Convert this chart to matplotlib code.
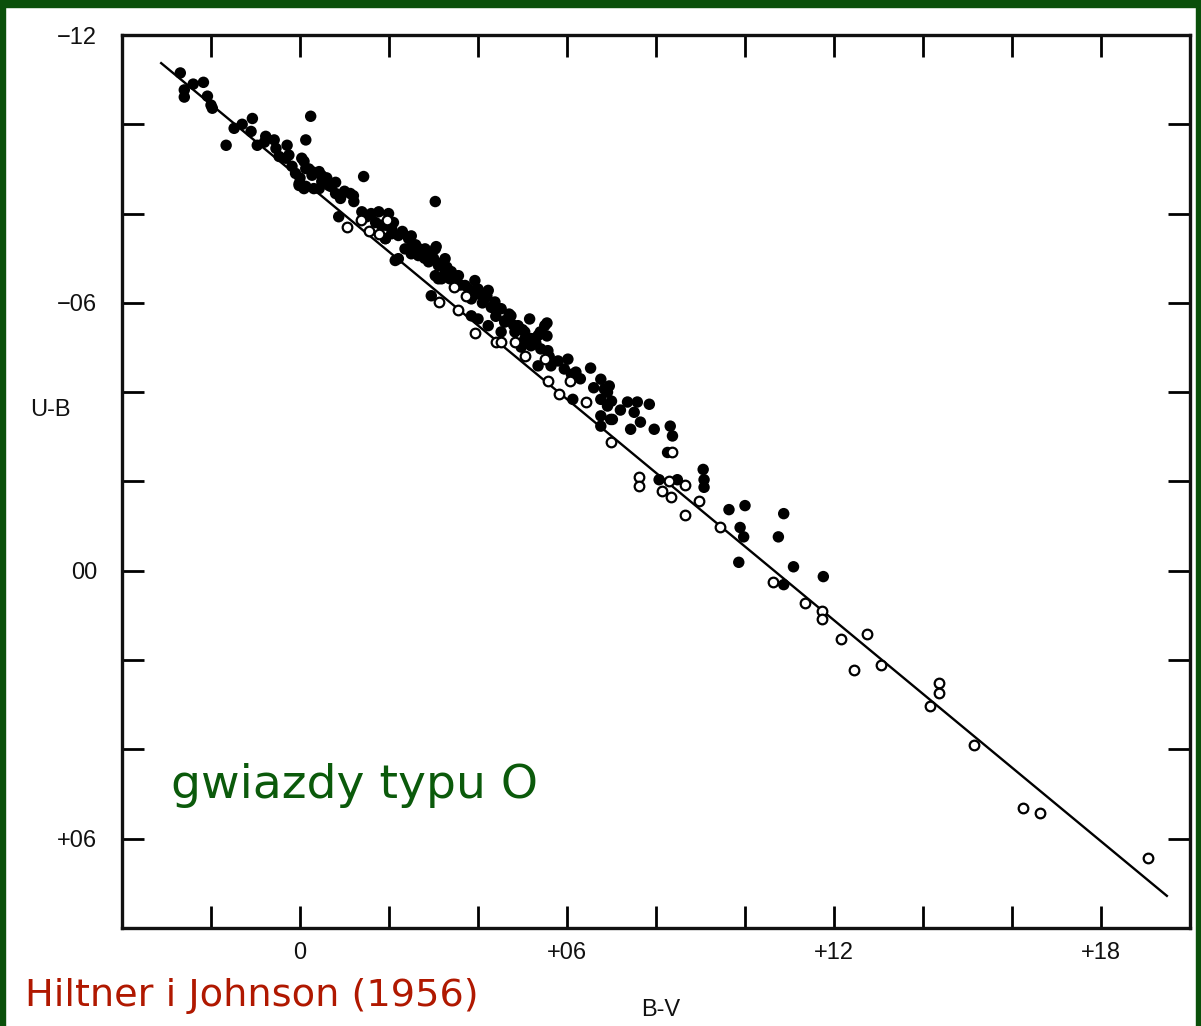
import matplotlib
matplotlib.use("Agg")
import matplotlib.pyplot as plt
from matplotlib.patches import Rectangle
import numpy as np

# B-V, U-B for the filled points
filled_bv = [-0.269, -0.260, -0.260, -0.217, -0.208, -0.200, -0.197, -0.107, 0.024, -0.148,
             -0.166, -0.110, -0.096, -0.077, -0.058, -0.054, -0.047, -0.029, -0.025, 0.013,
             -0.018, 0.004, 0.013, -0.002, 0.013, 0.027, 0.043, 0.049, 0.069, 0.080,
             0.031, 0.143, 0.087, 0.214, -0.032, 0.009, 0.027, 0.049, -0.002, 0.009,
             0.043, 0.065, 0.091, 0.113, 0.121, 0.304, 0.139, 0.150, 0.177, 0.199,
             0.183, 0.206, 0.192, 0.221, 0.244, 0.251, 0.221, 0.266, 0.281, 0.304,
             0.289, 0.311, 0.326, 0.304, 0.318, 0.192, 0.206, 0.192, 0.236, 0.306,
             0.326, 0.311, 0.337, 0.356, 0.371, 0.393, 0.400, 0.423, 0.385, 0.415,
             0.438, 0.445, 0.474, 0.460, 0.490, 0.516, 0.505, 0.535, 0.550, 0.295,
             0.385, 0.400, 0.423, 0.497, 0.452, 0.471, 0.555, 0.555, 0.452, 0.483,
             0.505, 0.519, 0.541, 0.557, 0.535, 0.564, 0.602, 0.594, 0.620, 0.653,
             0.613, 0.676, 0.684, 0.695, 0.676, 0.691, 0.676, 0.676, 0.698, 0.736,
             0.758, 0.785, 0.751, 0.765, 0.743, 0.796, 0.832, 0.837, 0.691, 0.702,
             0.807, 0.848, 0.906, 0.908, 0.908, 0.964, 1.000, 1.087, 0.989, 0.997,
             1.075, 0.986, 1.109, 1.087, 1.176, 0.826,
             # dense band
             0.160, 0.170, 0.210, 0.230, 0.250, 0.260, 0.270, 0.290, 0.300, 0.320,
             0.330, 0.340, 0.350, 0.360, 0.380, 0.400, 0.410, 0.430, 0.440, 0.460,
             0.480, 0.500, 0.520, 0.530, 0.560, 0.580, 0.610, 0.630, 0.660, 0.700,
             0.720, 0.060, 0.080, 0.100, 0.120, 0.020, -0.010, 0.000, -0.080, -0.130,
             -0.240, 0.250, 0.280, 0.420, 0.470, 0.540]
filled_ub = [-1.115, -1.077, -1.061, -1.094, -1.063, -1.043, -1.036, -1.013, -1.018, -0.991,
             -0.953, -0.984, -0.953, -0.973, -0.965, -0.946, -0.928, -0.953, -0.931, -0.965,
             -0.906, -0.924, -0.901, -0.867, -0.861, -0.886, -0.894, -0.872, -0.861, -0.845,
             -0.856, -0.883, -0.793, -0.695, -0.924, -0.917, -0.894, -0.885, -0.863, -0.856,
             -0.856, -0.863, -0.834, -0.845, -0.827, -0.827, -0.804, -0.793, -0.804, -0.800,
             -0.774, -0.766, -0.744, -0.751, -0.744, -0.726, -0.699, -0.706, -0.721, -0.721,
             -0.692, -0.684, -0.699, -0.661, -0.654, -0.774, -0.755, -0.744, -0.721, -0.726,
             -0.670, -0.654, -0.654, -0.661, -0.639, -0.650, -0.631, -0.628, -0.609, -0.609,
             -0.602, -0.587, -0.571, -0.557, -0.549, -0.564, -0.535, -0.527, -0.549, -0.616,
             -0.571, -0.564, -0.549, -0.501, -0.587, -0.571, -0.555, -0.526, -0.535, -0.535,
             -0.519, -0.504, -0.497, -0.493, -0.459, -0.459, -0.474, -0.452, -0.445, -0.454,
             -0.384, -0.429, -0.407, -0.414, -0.384, -0.369, -0.347, -0.324, -0.339, -0.378,
             -0.378, -0.373, -0.355, -0.333, -0.317, -0.317, -0.324, -0.302, -0.400, -0.339,
             -0.204, -0.204, -0.227, -0.204, -0.187, -0.137, -0.146, -0.128, -0.097, -0.076,
             -0.076, -0.019, -0.009, 0.031, 0.013, -0.265,
             -0.800, -0.780, -0.780, -0.760, -0.750, -0.730, -0.720, -0.710, -0.700, -0.690,
             -0.680, -0.670, -0.650, -0.640, -0.630, -0.620, -0.600, -0.590, -0.570, -0.560,
             -0.550, -0.540, -0.520, -0.510, -0.480, -0.470, -0.440, -0.430, -0.410, -0.380,
             -0.360, -0.880, -0.870, -0.850, -0.840, -0.900, -0.890, -0.880, -0.960, -1.000,
             -1.090, -0.710, -0.700, -0.615, -0.575, -0.535]

# open circles
open_bv = [0.105, 0.136, 0.154, 0.177, 0.195, 0.313, 0.346, 0.373, 0.356, 0.393,
           0.441, 0.483, 0.505, 0.550, 0.557, 0.606, 0.583, 0.642, 0.698, 0.837,
           0.762, 0.762, 0.829, 0.866, 0.814, 0.834, 0.896, 0.866, 0.943, 1.064,
           1.135, 1.174, 1.174, 1.215, 1.275, 1.245, 1.305, 1.436, 1.436, 1.415,
           1.515, 1.625, 1.664, 1.905, 0.452]
open_ub = [-0.771, -0.785, -0.762, -0.755, -0.785, -0.603, -0.636, -0.616, -0.583, -0.533,
           -0.512, -0.512, -0.482, -0.474, -0.425, -0.425, -0.396, -0.378, -0.288, -0.265,
           -0.209, -0.191, -0.202, -0.193, -0.178, -0.165, -0.156, -0.126, -0.099, 0.024,
           0.072, 0.090, 0.108, 0.153, 0.142, 0.222, 0.211, 0.252, 0.273, 0.303,
           0.391, 0.531, 0.542, 0.643, -0.512]

# reddening line end points
line_bv = [-0.312, 1.948]
line_ub = [-1.137, 0.728]

x_ticks = [-0.2, 0.0, 0.2, 0.4, 0.6, 0.8, 1.0, 1.2, 1.4, 1.6, 1.8]
x_labels = ["", "0", "", "", "+06", "", "", "+12", "", "", "+18"]
y_ticks = [-1.2, -1.0, -0.8, -0.6, -0.4, -0.2, 0.0, 0.2, 0.4, 0.6]
y_labels = ["\u221212", "", "", "\u221206", "", "", "00", "", "", "+06"]

fig = plt.figure(figsize=(12.01, 10.26), dpi=100)
fig.patch.set_facecolor("white")

# dark green frame of the slide
green = "#0a500a"
fig.add_artist(Rectangle((0, 0), 5 / 1201, 1, transform=fig.transFigure, color=green, zorder=0))
fig.add_artist(Rectangle((1196 / 1201, 0), 5 / 1201, 1, transform=fig.transFigure, color=green, zorder=0))
fig.add_artist(Rectangle((0, 1 - 7 / 1026), 1, 7 / 1026, transform=fig.transFigure, color=green, zorder=0))

ax = fig.add_axes([122 / 1201, 1 - 928 / 1026, 1068 / 1201, 893 / 1026])
ax.plot(line_bv, line_ub, color="black", lw=1.7, zorder=2)
ax.scatter(filled_bv, filled_ub, s=68, color="black", edgecolors="none", zorder=3)
ax.scatter(open_bv, open_ub, s=48, facecolors="white", edgecolors="black", linewidths=1.6, zorder=3)

ax.set_xlim(-0.4, 2.0)
ax.set_ylim(0.8, -1.2)

ax.set_xticks(x_ticks)
ax.set_xticklabels(x_labels)
ax.set_yticks(y_ticks)
ax.set_yticklabels(y_labels)
ax.tick_params(axis="both", direction="in", length=16, width=2.0, color="black",
               top=True, right=True, labelsize=17, labelcolor="#111111")
ax.tick_params(axis="x", pad=10)
ax.tick_params(axis="y", pad=18)
for lab in ax.get_xticklabels() + ax.get_yticklabels():
    lab.set_family("Liberation Sans")
for sp in ax.spines.values():
    sp.set_linewidth(2.4)
    sp.set_color("#111111")

ax.text(-0.067, 0.58, "U-B", transform=ax.transAxes, ha="center", va="center",
        fontsize=17, family="Liberation Sans", color="#111111")
ax.text(0.504, -0.092, "B-V", transform=ax.transAxes, ha="center", va="center",
        fontsize=17, family="Liberation Sans", color="#111111")

ax.text(-0.289, 0.508, "gwiazdy typu O", ha="left", va="baseline",
        fontsize=34, family="DejaVu Sans", color="#0b5a0b")
fig.text(25 / 1201, 1 - 1006 / 1026, "Hiltner i Johnson (1956)", ha="left", va="baseline",
         fontsize=27.5, family="DejaVu Sans", color="#b01800")

fig.savefig("out.png", dpi=100)
